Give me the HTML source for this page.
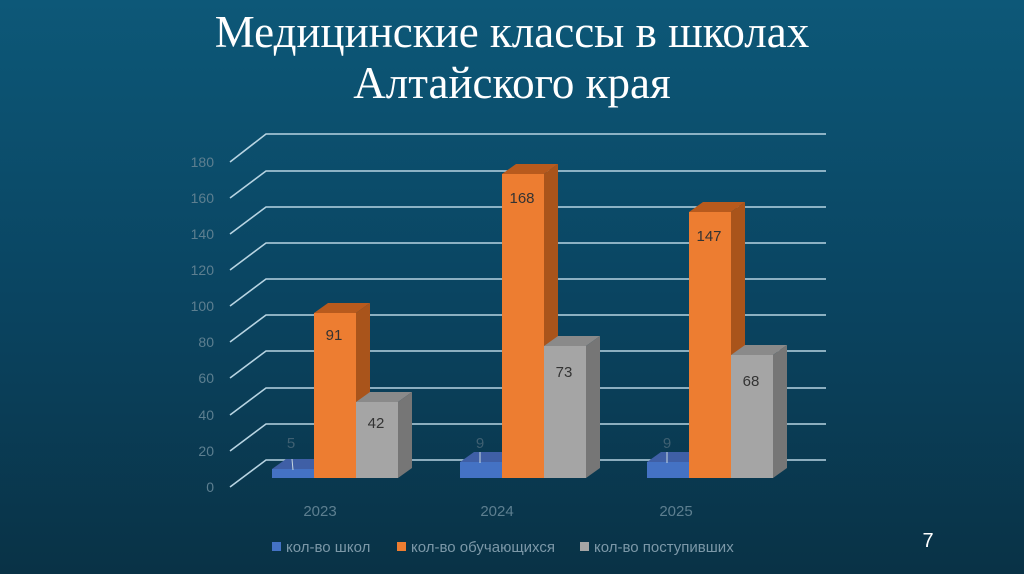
<!DOCTYPE html>
<html><head><meta charset="utf-8"><style>
html,body{margin:0;padding:0;}
body{width:1024px;height:574px;overflow:hidden;background:linear-gradient(#0d5878 0%,#0a4562 50%,#093246 100%);font-family:"Liberation Sans",sans-serif;}
svg{position:absolute;left:0;top:0;}
</style></head><body>
<svg width="1024" height="574" viewBox="0 0 1024 574">
<g font-family="Liberation Serif,serif" font-size="45" fill="#fff" text-anchor="middle">
<text x="512" y="47">Медицинские классы в школах</text>
<text x="512" y="98">Алтайского края</text>
</g>
<g stroke="#b8d4e2" stroke-width="1.6" fill="none">
<polyline points="230,487 266,460 826,460"/>
<polyline points="230,451 266,424 826,424"/>
<polyline points="230,415 266,388 826,388"/>
<polyline points="230,378 266,351 826,351"/>
<polyline points="230,342 266,315 826,315"/>
<polyline points="230,306 266,279 826,279"/>
<polyline points="230,270 266,243 826,243"/>
<polyline points="230,234 266,207 826,207"/>
<polyline points="230,198 266,171 826,171"/>
<polyline points="230,162 266,134 826,134"/>
</g>
<g font-size="14" fill="#5d7f90" text-anchor="end">
<text x="214" y="492">0</text><text x="214" y="456">20</text><text x="214" y="420">40</text>
<text x="214" y="383">60</text><text x="214" y="347">80</text><text x="214" y="311">100</text>
<text x="214" y="275">120</text><text x="214" y="239">140</text><text x="214" y="203">160</text>
<text x="214" y="167">180</text>
</g>
<!-- G1 -->
<polygon points="272,469 286,459 328,459 314,469" fill="#3f5fa6"/>
<rect x="272" y="469" width="42" height="9" fill="#4472c4"/>
<polygon points="314,313 328,303 370,303 356,313" fill="#b85a1d"/>
<polygon points="356,313 370,303 370,468 356,478" fill="#a9541b"/>
<rect x="314" y="313" width="42" height="165" fill="#ed7d31"/>
<polygon points="356,402 370,392 412,392 398,402" fill="#8a8a8a"/>
<polygon points="398,402 412,392 412,468 398,478" fill="#767676"/>
<rect x="356" y="402" width="42" height="76" fill="#a5a5a5"/>
<!-- G2 -->
<polygon points="460,462 474,452 516,452 502,462" fill="#3f5fa6"/>
<rect x="460" y="462" width="42" height="16" fill="#4472c4"/>
<polygon points="502,174 516,164 558,164 544,174" fill="#b85a1d"/>
<polygon points="544,174 558,164 558,468 544,478" fill="#a9541b"/>
<rect x="502" y="174" width="42" height="304" fill="#ed7d31"/>
<polygon points="544,346 558,336 600,336 586,346" fill="#8a8a8a"/>
<polygon points="586,346 600,336 600,468 586,478" fill="#767676"/>
<rect x="544" y="346" width="42" height="132" fill="#a5a5a5"/>
<!-- G3 -->
<polygon points="647,462 661,452 703,452 689,462" fill="#3f5fa6"/>
<rect x="647" y="462" width="42" height="16" fill="#4472c4"/>
<polygon points="689,212 703,202 745,202 731,212" fill="#b85a1d"/>
<polygon points="731,212 745,202 745,468 731,478" fill="#a9541b"/>
<rect x="689" y="212" width="42" height="266" fill="#ed7d31"/>
<polygon points="731,355 745,345 787,345 773,355" fill="#8a8a8a"/>
<polygon points="773,355 787,345 787,468 773,478" fill="#767676"/>
<rect x="731" y="355" width="42" height="123" fill="#a5a5a5"/>
<!-- labels -->
<g stroke="#c8d8e0" stroke-width="1"><line x1="292" y1="459" x2="293" y2="470"/><line x1="480" y1="452" x2="480" y2="463"/><line x1="667" y1="452" x2="667" y2="463"/></g>
<g font-size="15" fill="#333" text-anchor="middle">
<text x="334" y="340">91</text><text x="376" y="428">42</text>
<text x="522" y="203">168</text><text x="564" y="377">73</text>
<text x="709" y="241">147</text><text x="751" y="386">68</text>
</g>
<g font-size="15" fill="#3f6072" text-anchor="middle">
<text x="291" y="448">5</text><text x="480" y="448">9</text><text x="667" y="448">9</text>
</g>
<g font-size="15" fill="#5d7f90" text-anchor="middle">
<text x="320" y="516">2023</text><text x="497" y="516">2024</text><text x="676" y="516">2025</text>
</g>
<g font-size="15" fill="#7c98a8">
<rect x="272" y="542" width="9" height="9" fill="#4472c4"/><text x="286" y="552">кол-во школ</text>
<rect x="397" y="542" width="9" height="9" fill="#ed7d31"/><text x="411" y="552">кол-во обучающихся</text>
<rect x="580" y="542" width="9" height="9" fill="#a5a5a5"/><text x="594" y="552">кол-во поступивших</text>
</g>
<text x="928" y="547" font-size="20" fill="#fff" text-anchor="middle">7</text>
</svg>
</body></html>
